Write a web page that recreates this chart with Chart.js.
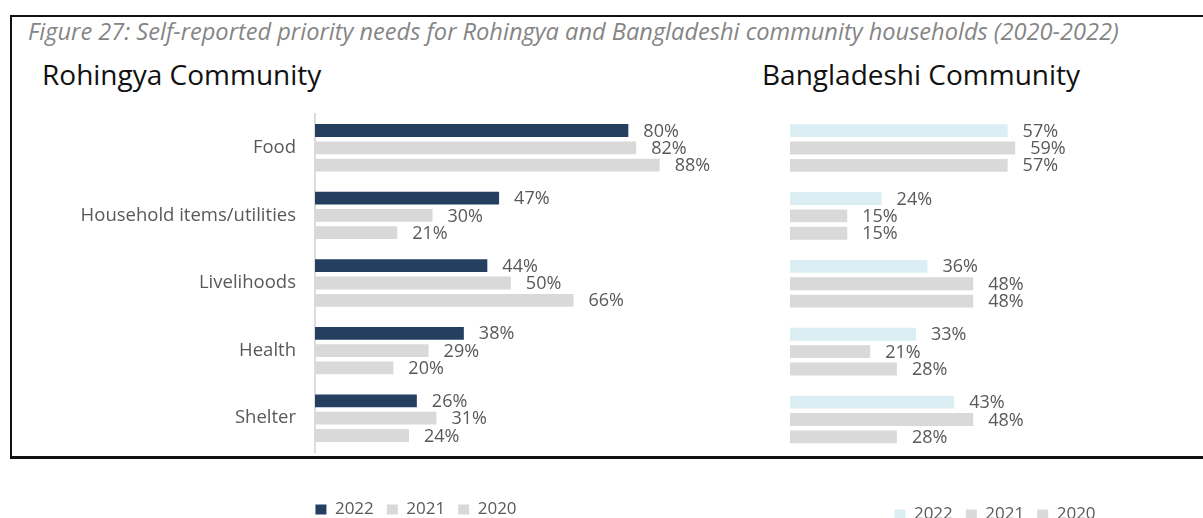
<!DOCTYPE html>
<html>
<head>
<meta charset="utf-8">
<script src="https://cdn.jsdelivr.net/npm/chart.js@4.4.1/dist/chart.umd.min.js"></script>
<style>
  html, body { margin: 0; padding: 0; background: #fff; width: 1203px; height: 518px; overflow: hidden; position: relative; }
  .frame { position: absolute; left: 10px; top: 15px; width: 1250px; height: 439px;
           border-top: 2px solid #111; border-left: 2px solid #111; border-bottom: 3px solid #111; }
  .fig-title { position: absolute; left: 28px; top: 15px; font: italic 23.6px "Open Sans", sans-serif; color: #858585; white-space: nowrap; }
  .panel-title { position: absolute; top: 55px; font: 28px "Open Sans", sans-serif; color: #111; white-space: nowrap; }
  canvas { position: absolute; }
</style>
</head>
<body>
<div class="frame"></div>
<div class="fig-title">Figure 27: Self-reported priority needs for Rohingya and Bangladeshi community households (2020-2022)</div>
<div class="panel-title" style="left:42px">Rohingya Community</div>
<div class="panel-title" style="left:762px">Bangladeshi Community</div>
<canvas id="rohingya" width="832" height="428" style="left:0;top:100px"></canvas>
<canvas id="bangla" width="510" height="433" style="left:740px;top:100px"></canvas>
<script>
// Priority needs, share of households (%)
const categories = ['Food', 'Household items/utilities', 'Livelihoods', 'Health', 'Shelter'];
const years = ['2022', '2021', '2020'];

const rohingya2022 = [80, 47, 44, 38, 26];
const rohingya2021 = [82, 30, 50, 29, 31];
const rohingya2020 = [88, 21, 66, 20, 24];

const bangladeshi2022 = [57, 24, 36, 33, 43];
const bangladeshi2021 = [59, 15, 48, 21, 48];
const bangladeshi2020 = [57, 15, 48, 28, 28];

const NAVY = '#243f5f';
const CYAN = '#daeef3';
const GREY = '#d9d9d9';
const TEXT = '#595959';
const FONT = '"Open Sans", sans-serif';

// Writes "NN%" just past the end of every bar
const valueLabels = {
  id: 'valueLabels',
  afterDatasetsDraw(chart) {
    const ctx = chart.ctx;
    ctx.save();
    ctx.font = '18px ' + FONT;
    ctx.fillStyle = TEXT;
    ctx.textAlign = 'left';
    ctx.textBaseline = 'middle';
    chart.data.datasets.forEach((ds, di) => {
      chart.getDatasetMeta(di).data.forEach((bar, i) => {
        ctx.fillText(ds.data[i] + '%', bar.x + 15, bar.y + 1);
      });
    });
    ctx.restore();
  }
};

function makeChart(id, series, colours, opts) {
  return new Chart(document.getElementById(id), {
    type: 'bar',
    data: {
      labels: categories,
      datasets: series.map((s, k) => ({
        label: years[k],
        data: s,
        backgroundColor: colours[k],
        borderWidth: 0,
        categoryPercentage: 0.768,
        barPercentage: 0.74
      }))
    },
    options: {
      indexAxis: 'y',
      responsive: false,
      animation: false,
      devicePixelRatio: 1,
      layout: { padding: { top: 14, left: 0, right: 0, bottom: 0 } },
      scales: {
        x: {
          min: 0,
          max: opts.xMax,
          display: true,
          ticks: { display: false },
          grid: { display: false },
          border: { display: false },
          afterFit: s => { s.height = opts.gap; }
        },
        y: {
          ticks: { display: opts.showLabels, color: TEXT, font: { family: FONT, size: 18.5 }, padding: 19 },
          grid: { display: false, drawTicks: false },
          border: { display: opts.showAxis, color: '#dcdcdc', width: 2 },
          afterFit: s => {
            s.width = opts.axisLeft;
            s.paddingTop = 0;
            s.paddingBottom = 0;
          }
        }
      },
      plugins: {
        tooltip: { enabled: false },
        legend: {
          position: 'bottom',
          align: 'center',
          labels: {
            color: TEXT,
            font: { family: FONT, size: 17 },
            boxWidth: 11,
            boxHeight: 10,
            padding: 13
          }
        }
      }
    },
    plugins: [valueLabels]
  });
}

makeChart('rohingya', [rohingya2022, rohingya2021, rohingya2020], [NAVY, GREY, GREY],
  { xMax: 132, gap: 36, axisLeft: 315, showLabels: true, showAxis: true });
makeChart('bangla', [bangladeshi2022, bangladeshi2021, bangladeshi2020], [CYAN, GREY, GREY],
  { xMax: 120.5, gap: 39.5, axisLeft: 50, showLabels: false, showAxis: false });
</script>
</body>
</html>
